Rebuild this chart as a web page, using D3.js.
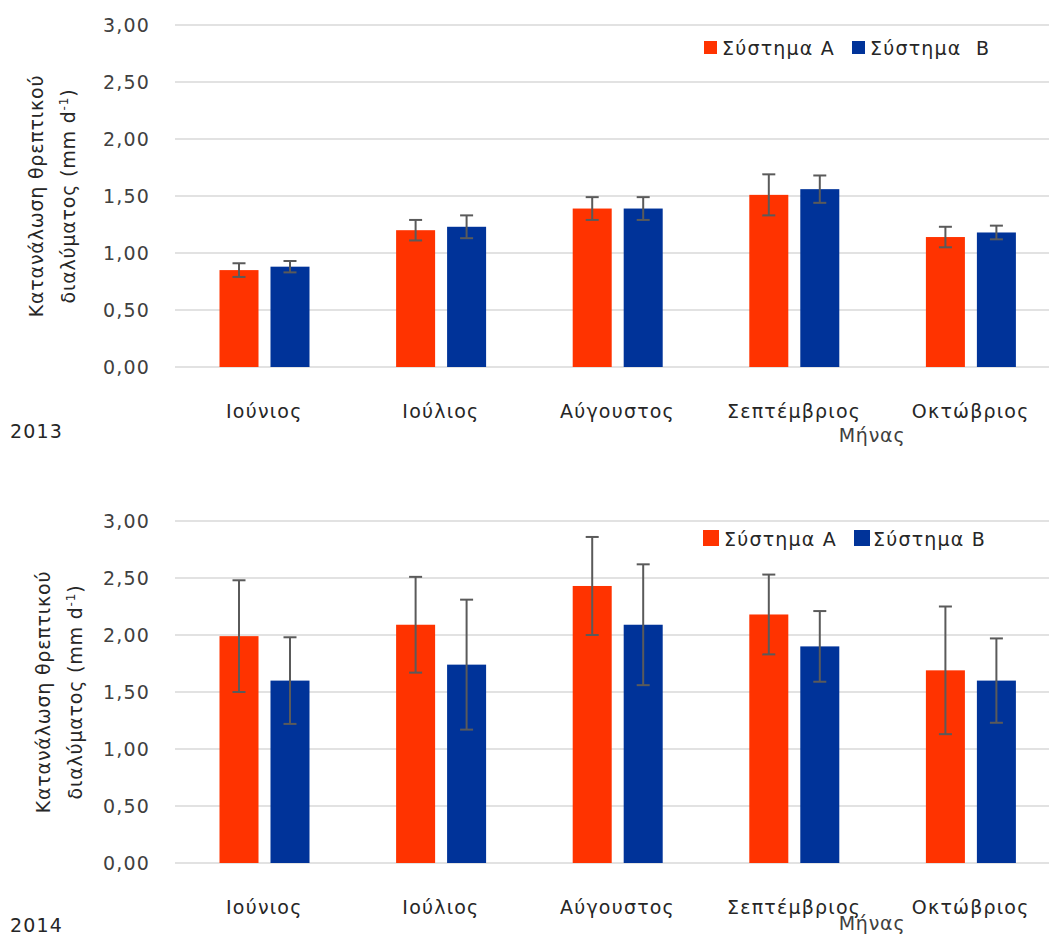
<!DOCTYPE html>
<html>
<head>
<meta charset="utf-8">
<script src="https://cdn.jsdelivr.net/npm/d3@7"></script>
<style>
  html, body { margin: 0; padding: 0; background: #fff; }
  svg text { font-family: "DejaVu Sans", Verdana, sans-serif; }
</style>
</head>
<body>
<svg id="chart" width="1049" height="937"></svg>
<script>
// Monthly nutrient solution consumption, two growing systems, two seasons
const months = ["Ιούνιος", "Ιούλιος", "Αύγουστος", "Σεπτέμβριος", "Οκτώβριος"];
const seriesNames = ["Σύστημα A", "Σύστημα B"];
const yTickValues = [0, 0.5, 1, 1.5, 2, 2.5, 3];

// 2013
const sysA2013 = [0.85, 1.20, 1.39, 1.51, 1.14];
const sysA2013Err = [0.06, 0.09, 0.10, 0.18, 0.09];
const sysB2013 = [0.88, 1.23, 1.39, 1.56, 1.18];
const sysB2013Err = [0.05, 0.10, 0.10, 0.12, 0.06];

// 2014
const sysA2014 = [1.99, 2.09, 2.43, 2.18, 1.69];
const sysA2014Err = [0.49, 0.42, 0.43, 0.35, 0.56];
const sysB2014 = [1.60, 1.74, 2.09, 1.90, 1.60];
const sysB2014Err = [0.38, 0.57, 0.53, 0.31, 0.37];

const colors = ["#ff3300", "#003399"];
const fmt = v => d3.format(".2f")(v).replace(".", ",");

const svg = d3.select("#chart");

function drawPanel(opts) {
  const g = svg.append("g");
  const y = d3.scaleLinear().domain([0, 3]).range([opts.zeroY, opts.zeroY - 342]);
  const x0 = d3.scaleBand().domain(months).range([176, 1059]).paddingInner(0).paddingOuter(0);
  const x1 = d3.scaleBand().domain(seriesNames).range([43.5, 133.5]).paddingInner(0.235).paddingOuter(0);

  // gridlines
  g.selectAll("line.grid").data(yTickValues).enter().append("line")
    .attr("x1", 175).attr("x2", 1049)
    .attr("y1", d => y(d)).attr("y2", d => y(d))
    .attr("stroke", "#d9d9d9").attr("stroke-width", 1.5);

  // y tick labels
  const yAxis = d3.axisLeft(y).tickValues(yTickValues).tickFormat(fmt).tickSize(0).tickPadding(0);
  const ya = g.append("g").attr("transform", "translate(150,0)").call(yAxis);
  ya.select(".domain").remove();
  ya.selectAll("text").attr("font-size", 19).attr("fill", "#404040")
    .attr("letter-spacing", 1.2).attr("font-family", "DejaVu Sans");

  const rows = months.map((m, i) => ({
    month: m,
    vals: [
      { s: seriesNames[0], v: opts.a[i], e: opts.aErr[i], c: colors[0] },
      { s: seriesNames[1], v: opts.b[i], e: opts.bErr[i], c: colors[1] }
    ]
  }));

  const grp = g.selectAll("g.grp").data(rows).enter().append("g")
    .attr("transform", d => `translate(${x0(d.month)},0)`);

  grp.selectAll("rect").data(d => d.vals).enter().append("rect")
    .attr("x", d => x1(d.s)).attr("width", x1.bandwidth())
    .attr("y", d => y(d.v)).attr("height", d => y(0) - y(d.v))
    .attr("fill", d => d.c);

  // error bars
  const eb = grp.selectAll("g.err").data(d => d.vals).enter().append("g")
    .attr("stroke", "#5a5a5a").attr("stroke-width", 2);
  eb.append("line")
    .attr("x1", d => x1(d.s) + x1.bandwidth() / 2).attr("x2", d => x1(d.s) + x1.bandwidth() / 2)
    .attr("y1", d => y(d.v + d.e)).attr("y2", d => y(d.v - d.e));
  eb.append("line")
    .attr("x1", d => x1(d.s) + x1.bandwidth() / 2 - 6.5).attr("x2", d => x1(d.s) + x1.bandwidth() / 2 + 6.5)
    .attr("y1", d => y(d.v + d.e)).attr("y2", d => y(d.v + d.e));
  eb.append("line")
    .attr("x1", d => x1(d.s) + x1.bandwidth() / 2 - 6.5).attr("x2", d => x1(d.s) + x1.bandwidth() / 2 + 6.5)
    .attr("y1", d => y(d.v - d.e)).attr("y2", d => y(d.v - d.e));

  // category labels
  g.selectAll("text.cat").data(months).enter().append("text")
    .attr("x", d => x0(d) + x0.bandwidth() / 2).attr("y", opts.zeroY + 51)
    .attr("text-anchor", "middle").attr("font-size", 19).attr("letter-spacing", 1.2)
    .attr("fill", "#262626").text(d => d);

  // x axis title
  g.append("text").attr("x", 872).attr("y", opts.zeroY + opts.monthTitleDy)
    .attr("text-anchor", "middle").attr("font-size", 19).attr("letter-spacing", 0.8)
    .attr("fill", "#404040").text("Μήνας");

  // year label
  g.append("text").attr("x", 10).attr("y", opts.yearY)
    .attr("font-size", 19).attr("letter-spacing", 1.2).attr("fill", "#262626").text(opts.year);

  // y axis title (two lines)
  const cy = opts.zeroY - 171;
  g.append("text").attr("transform", `translate(${opts.titleX},${cy}) rotate(-90)`)
    .attr("text-anchor", "middle").attr("font-size", 19).attr("letter-spacing", 0.8).attr("fill", "#262626")
    .text("Κατανάλωση θρεπτικού");
  const t2 = g.append("text").attr("transform", `translate(${opts.titleX + 32},${cy}) rotate(-90)`)
    .attr("text-anchor", "middle").attr("font-size", 19).attr("letter-spacing", 0.8).attr("fill", "#262626");
  t2.append("tspan").text("διαλύματος (mm d");
  t2.append("tspan").attr("font-size", 12).attr("dy", -7).text("-1");
  t2.append("tspan").attr("dy", 7).text(")");

  // legend
  const L = opts.legend;
  const lg = g.append("g");
  seriesNames.forEach((s, i) => {
    lg.append("rect").attr("x", L.sq[i]).attr("y", L.sqY).attr("width", L.size).attr("height", L.size)
      .attr("fill", colors[i]);
    lg.append("text").attr("x", L.tx[i]).attr("y", L.ty).attr("font-size", 19).attr("letter-spacing", 1.2)
      .attr("fill", "#262626").attr("xml:space", "preserve").text(L.labels[i]);
  });
}

drawPanel({
  zeroY: 367, a: sysA2013, aErr: sysA2013Err, b: sysB2013, bErr: sysB2013Err,
  year: "2013", yearY: 438, titleX: 43, monthTitleDy: 75,
  legend: { sq: [704, 852], sqY: 41, size: 13, tx: [722, 870], ty: 55, labels: ["Σύστημα A", "Σύστημα  B"] }
});

drawPanel({
  zeroY: 863, a: sysA2014, aErr: sysA2014Err, b: sysB2014, bErr: sysB2014Err,
  year: "2014", yearY: 932, titleX: 50, monthTitleDy: 67,
  legend: { sq: [703, 854], sqY: 530, size: 16, tx: [724, 873], ty: 546, labels: ["Σύστημα A", "Σύστημα B"] }
});
</script>
</body>
</html>
